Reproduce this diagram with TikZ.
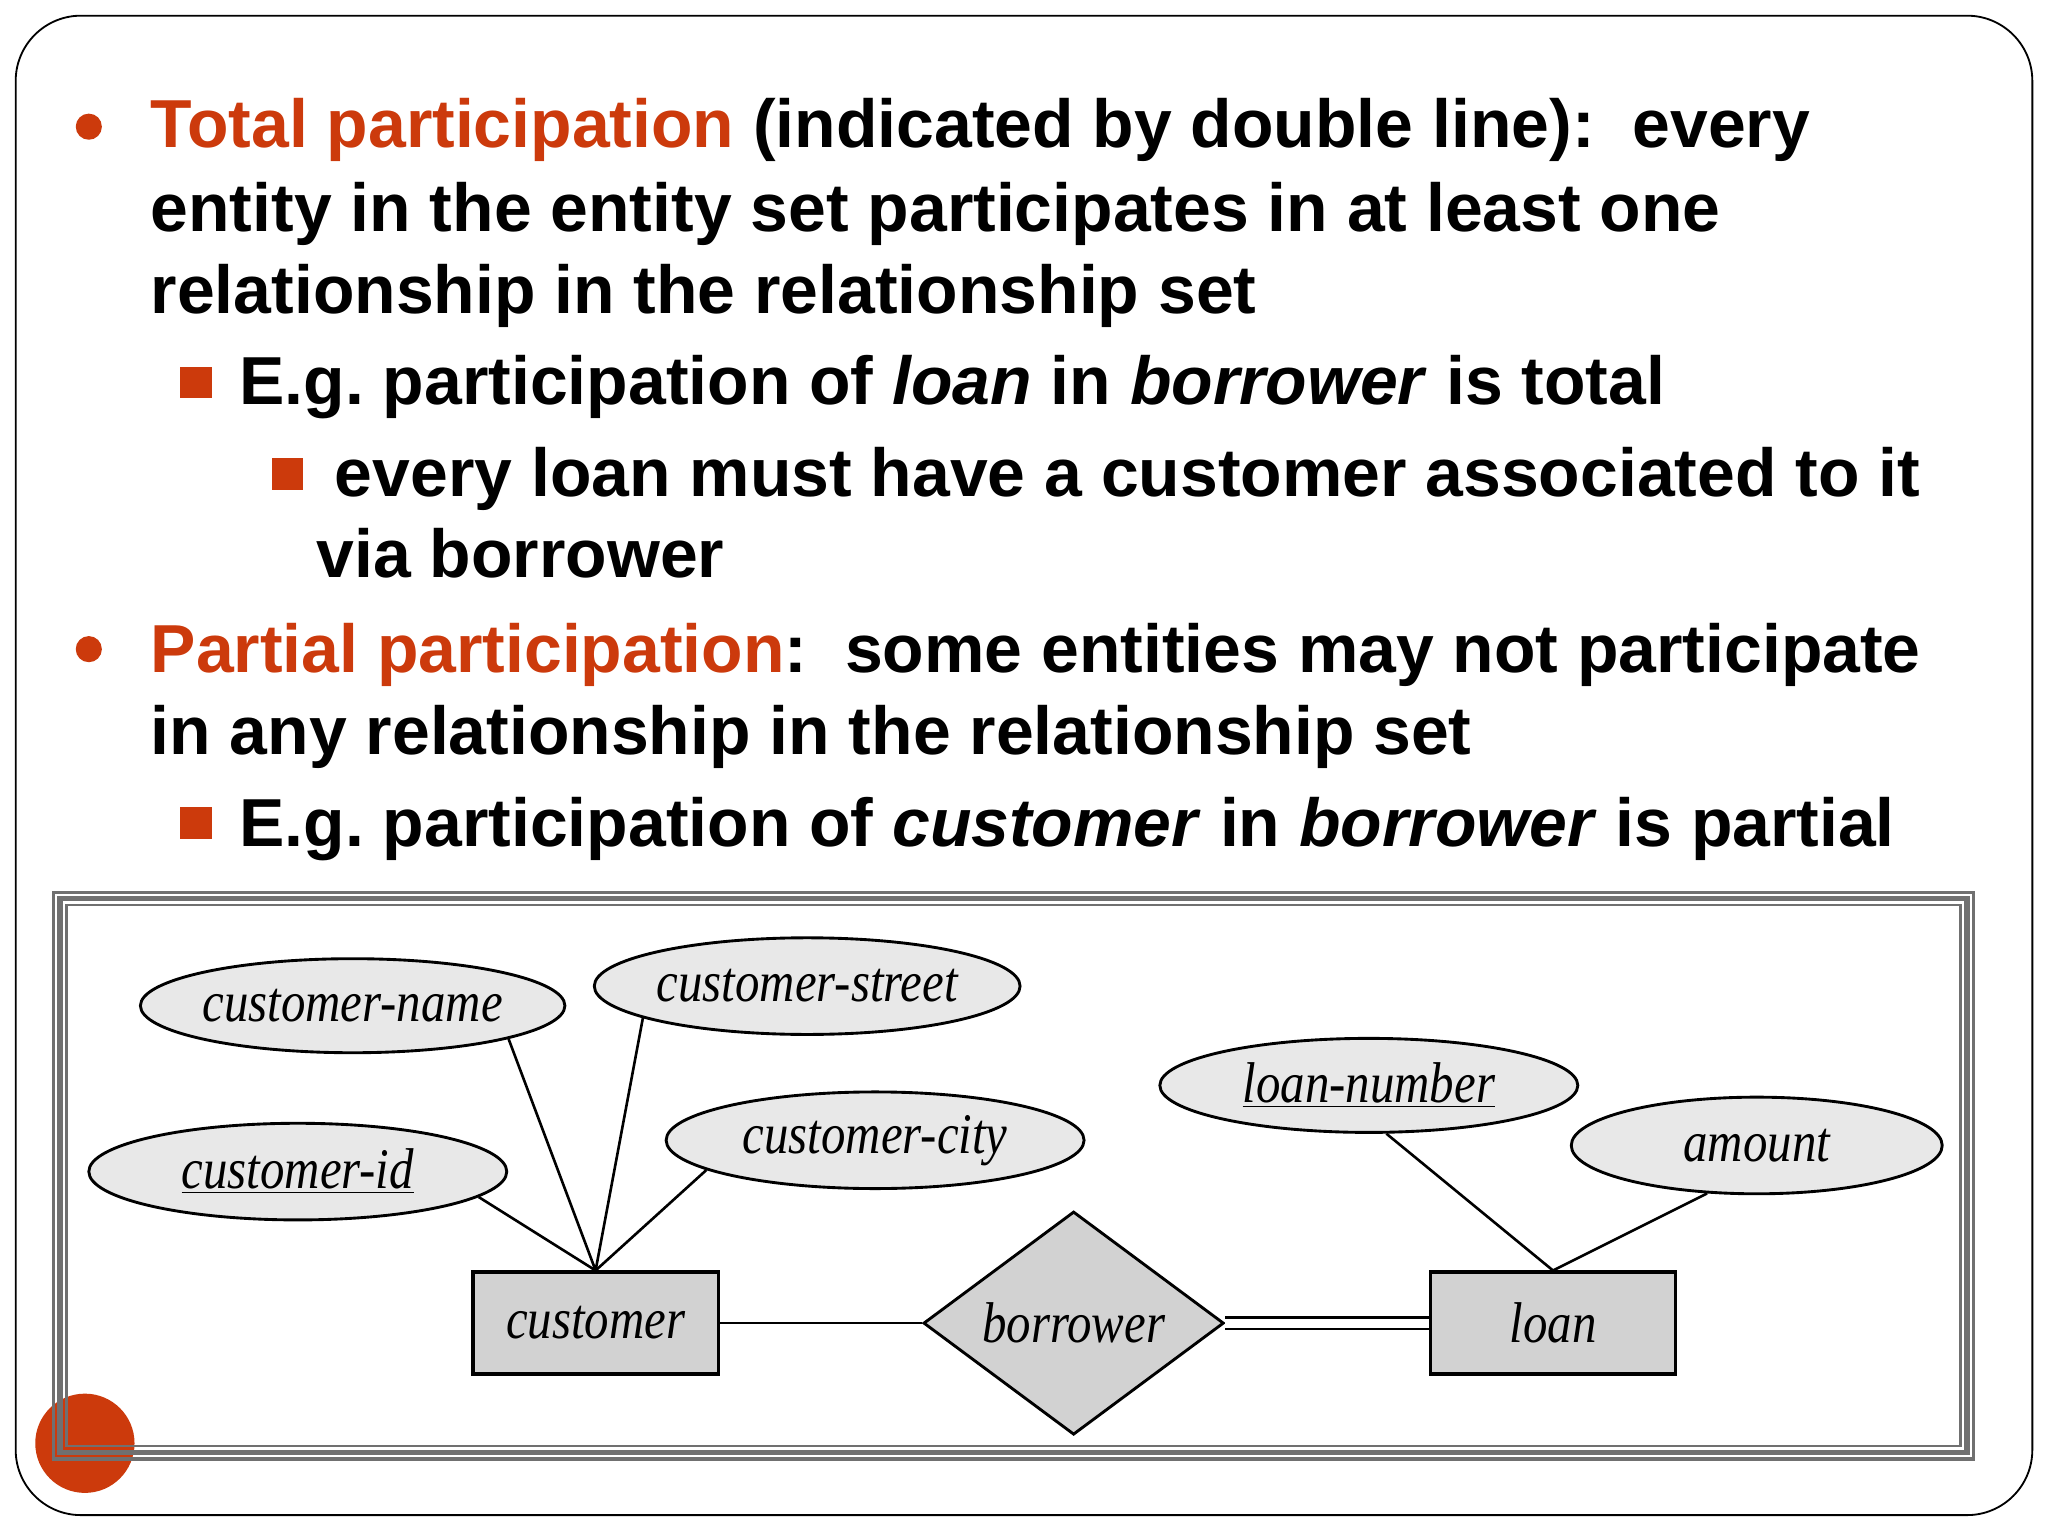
\documentclass[tikz,border=0pt]{standalone}
\usepackage{fontspec}
\setmainfont{Liberation Sans}
\newfontfamily\erfont{Liberation Serif}[FakeStretch=0.85]
\usetikzlibrary{shapes.geometric}
\frenchspacing
\definecolor{ora}{HTML}{CC3A0C}
\definecolor{frm}{HTML}{707070}
\definecolor{efill}{HTML}{E8E8E8}
\definecolor{rfill}{HTML}{D2D2D2}
\tikzset{
 txt/.style={anchor=base west,inner sep=0,font=\fontsize{26}{30}\selectfont\bfseries},
 attr/.style={ellipse,draw,line width=1.1pt,fill=efill,inner sep=0,font=\erfont\itshape\fontsize{22}{24}\selectfont},
 ent/.style={rectangle,draw,line width=1.3pt,fill=rfill,minimum width=94pt,minimum height=39pt,font=\erfont\itshape\fontsize{22}{24}\selectfont},
 rel/.style={diamond,draw,line width=1.1pt,fill=rfill,minimum width=115pt,minimum height=81pt,inner sep=0,font=\erfont\itshape\fontsize{22}{24}\selectfont},
 conn/.style={line width=1pt},
 sq/.style={fill=ora,minimum size=12pt,inner sep=0},
 dot/.style={circle,fill=ora,minimum size=10pt,inner sep=0}
}
\begin{document}
\begin{tikzpicture}[x=0.5pt,y=-0.5pt]
\useasboundingbox (0,0) rectangle (1568,1176);
\fill[white] (0,0) rectangle (1568,1176);
\draw[line width=0.7pt,rounded corners=25pt] (12,12) rectangle (1556,1160);
\fill[ora] (65,1105) circle (19pt);
\draw[frm,line width=1.2pt] (41,683) rectangle (1511,1117);
\draw[frm,line width=2.2pt] (46,688) rectangle (1506,1112);
\draw[frm,line width=1pt] (51,693) rectangle (1501,1107);
% text
\node[dot] (b1) at (68,97) {};
\node[txt] (t1) at (115,113) {\textcolor{ora}{Total participation} (indicated by double line):\ \ every};
\node[txt] (t2) at (115,177) {entity in the entity set participates in at least one};
\node[txt] (t3) at (115,240) {relationship in the relationship set};
\node[sq] (s1) at (150,293) {};
\node[txt] (t4) at (183,310) {E.g. participation of \textit{loan} in \textit{borrower} is total};
\node[sq] (s2) at (220,363) {};
\node[txt] (t5) at (256,380) {every loan must have a customer associated to it};
\node[txt] (t6) at (242,442) {via borrower};
\node[dot] (b2) at (68,497) {};
\node[txt] (t7) at (115,515) {\textcolor{ora}{Partial participation}:\ \ some entities may not participate};
\node[txt] (t8) at (115,578) {in any relationship in the relationship set};
\node[sq] (s3) at (150,630) {};
\node[txt] (t9) at (183,648) {E.g. participation of \textit{customer} in \textit{borrower} is partial};
% ER
\node[ent] (cust) at (456,1013) {customer};
\node[ent] (loan) at (1189,1013) {loan};
\node[rel] (bor) at (822,1013) {borrower};
\node[attr,minimum width=162pt,minimum height=36pt] (cn) at (270,770) {customer-name};
\node[attr,minimum width=160pt,minimum height=37pt] (cs) at (618,755) {customer-street};
\node[attr,minimum width=160pt,minimum height=37pt] (ci) at (228,897) {\underline{customer-id}};
\node[attr,minimum width=160pt,minimum height=37pt] (cc) at (670,873) {customer-city};
\node[attr,minimum width=160pt,minimum height=36pt] (ln) at (1048,831) {\underline{loan-number}};
\node[attr,minimum width=142pt,minimum height=37pt] (am) at (1345,877) {amount};
\draw[conn] (cn.-12) -- (cust.north);
\draw[conn] (cs.191) -- (cust.north);
\draw[conn] (ci.-8) -- (cust.north);
\draw[conn] (cc.190) -- (cust.north);
\draw[conn] (ln.-70) -- (loan.north);
\draw[conn] (am.224) -- (loan.north);
\draw[conn] (cust.east) -- (bor.west);
\draw[line width=1pt,double,double distance=3.5pt] (bor.east) -- (loan.west);
\end{tikzpicture}
\end{document}
